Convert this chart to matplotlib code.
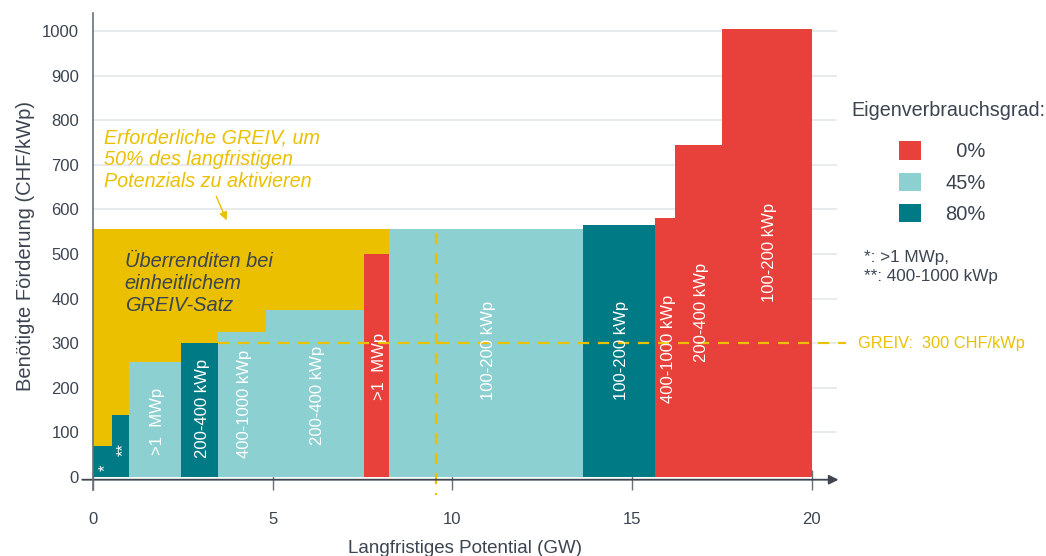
import matplotlib.pyplot as plt
from matplotlib.patches import Patch

plt.rcParams['font.family'] = ['Liberation Sans', 'DejaVu Sans']

# Stufen: linke Kante, rechte Kante (GW), Förderbedarf (CHF/kWp), Eigenverbrauch, Beschriftung
x_left  = [0.00, 0.54, 1.00, 2.45, 3.47, 4.81, 7.54, 8.23, 13.63, 15.65, 16.21, 17.50]
x_right = [0.54, 1.00, 2.45, 3.47, 4.81, 7.54, 8.23, 13.63, 15.65, 16.21, 17.50, 20.00]
need    = [70, 140, 258, 300, 325, 375, 500, 555, 565, 580, 745, 1005]
selfuse = ['80%', '80%', '45%', '80%', '45%', '45%', '0%', '45%', '80%', '0%', '0%', '0%']
seg_lab = ['*', '**', '>1  MWp', '200-400 kWp', '400-1000 kWp', '200-400 kWp', '>1  MWp',
           '100-200 kWp', '100-200 kWp', '400-1000 kWp', '200-400 kWp', '100-200 kWp']
lab_y   = [14, 48, 49, 43, 43, 72, 173, 173, 173, 166, 258, 392]

greiv = 300          # einheitlicher Satz
greiv_needed = 555   # Satz für 50 % des Potenzials
half_potential = 9.55

colors = {'0%': '#e8403a', '45%': '#8dd0d1', '80%': '#007b86'}
yellow = '#ebc000'
dark = '#3b4450'

fig = plt.figure(figsize=(10.46, 5.56), dpi=100)
ax = fig.add_axes([0.0889, 0.1372, 0.711, 0.8391])
ax.set_xlim(0, 20.7)
ax.set_ylim(-6, 1040)

for y in range(100, 1001, 100):
    ax.axhline(y, color='#e4e7eb', lw=1.2, zorder=0)

# Überrenditen-Fläche bis zum erforderlichen Satz
ax.bar(0, greiv_needed, width=x_right[6], align='edge', color=yellow, zorder=1)

ax.bar(x_left, need, width=[r - l for l, r in zip(x_left, x_right)], align='edge',
       color=[colors[s] for s in selfuse], zorder=2)

for l, r, t, yy in zip(x_left, x_right, seg_lab, lab_y):
    ax.text((l + r) / 2 + 0.08, yy, t, rotation=90, ha='center', va='bottom', color='white',
            fontsize=12, zorder=4)

ax.plot([3.47, 20.95], [greiv, greiv], color=yellow, lw=1.6, ls=(0, (5, 4)),
        zorder=3, clip_on=False)
ax.text(21.3, greiv, 'GREIV:  300 CHF/kWp', color=yellow, fontsize=11.8, va='center')
ax.plot([half_potential, half_potential], [greiv_needed - 8, -40], color=yellow, lw=1.6,
        ls=(0, (5, 4)), zorder=3, clip_on=False)

ax.text(0.3, 782, 'Erforderliche GREIV, um\n50% des langfristigen\nPotenzials zu aktivieren',
        color=yellow, style='italic', fontsize=14.2, va='top', linespacing=1.19)
ax.annotate('', xy=(3.75, 570), xytext=(3.4, 635),
            arrowprops=dict(arrowstyle='-|>', color=yellow, lw=1, mutation_scale=12))
ax.text(0.88, 505, 'Überrenditen bei\neinheitlichem\nGREIV-Satz', color=dark,
        style='italic', fontsize=14.4, va='top', linespacing=1.22)

# Achsen
for s in ax.spines.values():
    s.set_visible(False)
ax.plot([0, 0], [-30, 1040], color='#6b7079', lw=1.2, clip_on=False, zorder=5)
ax.annotate('', xy=(20.75, -6), xytext=(-0.3, -6),
            arrowprops=dict(arrowstyle='-|>', color='#3e4550', lw=1.3, mutation_scale=14,
                            shrinkA=0, shrinkB=0), annotation_clip=False)

ax.set_xticks([0, 5, 10, 15, 20])
ax.set_yticks(range(0, 1001, 100))
ax.tick_params(axis='x', direction='inout', length=15, width=1, color='#6b7079',
               pad=16, labelsize=12, labelcolor=dark)
ax.tick_params(axis='y', length=0, pad=10, labelsize=12, labelcolor=dark)
ax.set_xlabel('Langfristiges Potential (GW)', fontsize=13.5, color=dark, labelpad=9)
ax.set_ylabel('Benötigte Förderung (CHF/kWp)', fontsize=14.5, color=dark, labelpad=5)

fig.text(0.8136, 0.802, 'Eigenverbrauchsgrad:', fontsize=14.2, color=dark, va='center')
handles = [Patch(facecolor=colors[k], edgecolor='none') for k in ['0%', '45%', '80%']]
leg = fig.legend(handles, ['  0%', '45%', '80%'],
                 loc='upper left', bbox_to_anchor=(0.8595, 0.746), frameon=False,
                 fontsize=14.5, handlelength=1.1, handleheight=1.05,
                 labelspacing=0.55, handletextpad=1.2, borderpad=0, borderaxespad=0)
for t in leg.get_texts():
    t.set_color(dark)

fig.text(0.826, 0.55, '*: >1 MWp,\n**: 400-1000 kWp', fontsize=12.3, color=dark,
         va='top', linespacing=1.3)

fig.savefig('out.png', dpi=100)
